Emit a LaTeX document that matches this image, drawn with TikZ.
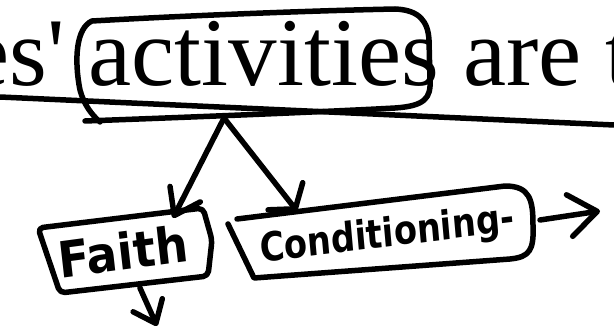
\documentclass[tikz,border=0pt]{standalone}
\usepackage{fontspec}
\setmainfont{Liberation Serif}
\newfontfamily\penfont{DejaVu Sans}
\usetikzlibrary{arrows.meta}

\tikzset{
  pen/.style={line width=5.5pt, line cap=round, line join=round},
  penarrow/.style 2 args={pen, -{Straight Barb[round, length=#1, width=#2]}},
  penlabel/.style={font=\penfont\bfseries\fontsize{#1}{#1}\selectfont, inner sep=0pt},
}

\begin{document}
\begin{tikzpicture}[x=1pt, y=-1pt]
  \useasboundingbox (0,0) rectangle (614,331);
  % printed line
  \node[anchor=base west, inner sep=0pt, font=\fontsize{97}{100}\selectfont]
      (sentence) at (-34,86) {es\textquotesingle{} activities are t};
  \draw[pen] (0,97) -- (614,125);
  % loop round the word
  \draw[pen] (85,121) .. controls (250,115) and (360,110) .. (395,108)
      .. controls (425,106) and (431,98) .. (430,80) -- (429,40)
      .. controls (428,22) and (420,10) .. (395,9)
      .. controls (300,11) and (180,16) .. (92,21)
      .. controls (76,28) and (74,60) .. (80,90)
      .. controls (84,105) and (92,115) .. (100,122);
  % handwritten boxes
  \node[penlabel=50, xscale=0.92, rotate=7] (faith) at (123,251) {Faith};
  \node[penlabel=40, xscale=0.84, rotate=6] (cond) at (387,236) {Conditioning-};
  \draw[pen, rounded corners=5pt] (38,228) -- (203,208) -- (212,240)
      -- (208,276) -- (60,293) -- cycle;
  \draw[pen] (228,224) -- (254,278) -- (510,259)
      .. controls (530,257) and (534,250) .. (533,225)
      .. controls (533,200) and (530,186) .. (505,186) -- (237,219);
  % arrows
  \coordinate (apex) at (224,118);
  \coordinate (faith in) at (173,218);
  \coordinate (cond in) at (297,211);
  \coordinate (faith out) at (140,288);
  \coordinate (cond out) at (540,220);
  \draw[penarrow={24pt}{34pt}] (apex) -- (faith in);
  \draw[penarrow={16pt}{44pt}] (apex) -- (cond in);
  \draw[penarrow={20pt}{32pt}] (faith out) -- ++(17,38);
  \draw[penarrow={28pt}{42pt}] (cond out) -- ++(60,-9);
\end{tikzpicture}
\end{document}
